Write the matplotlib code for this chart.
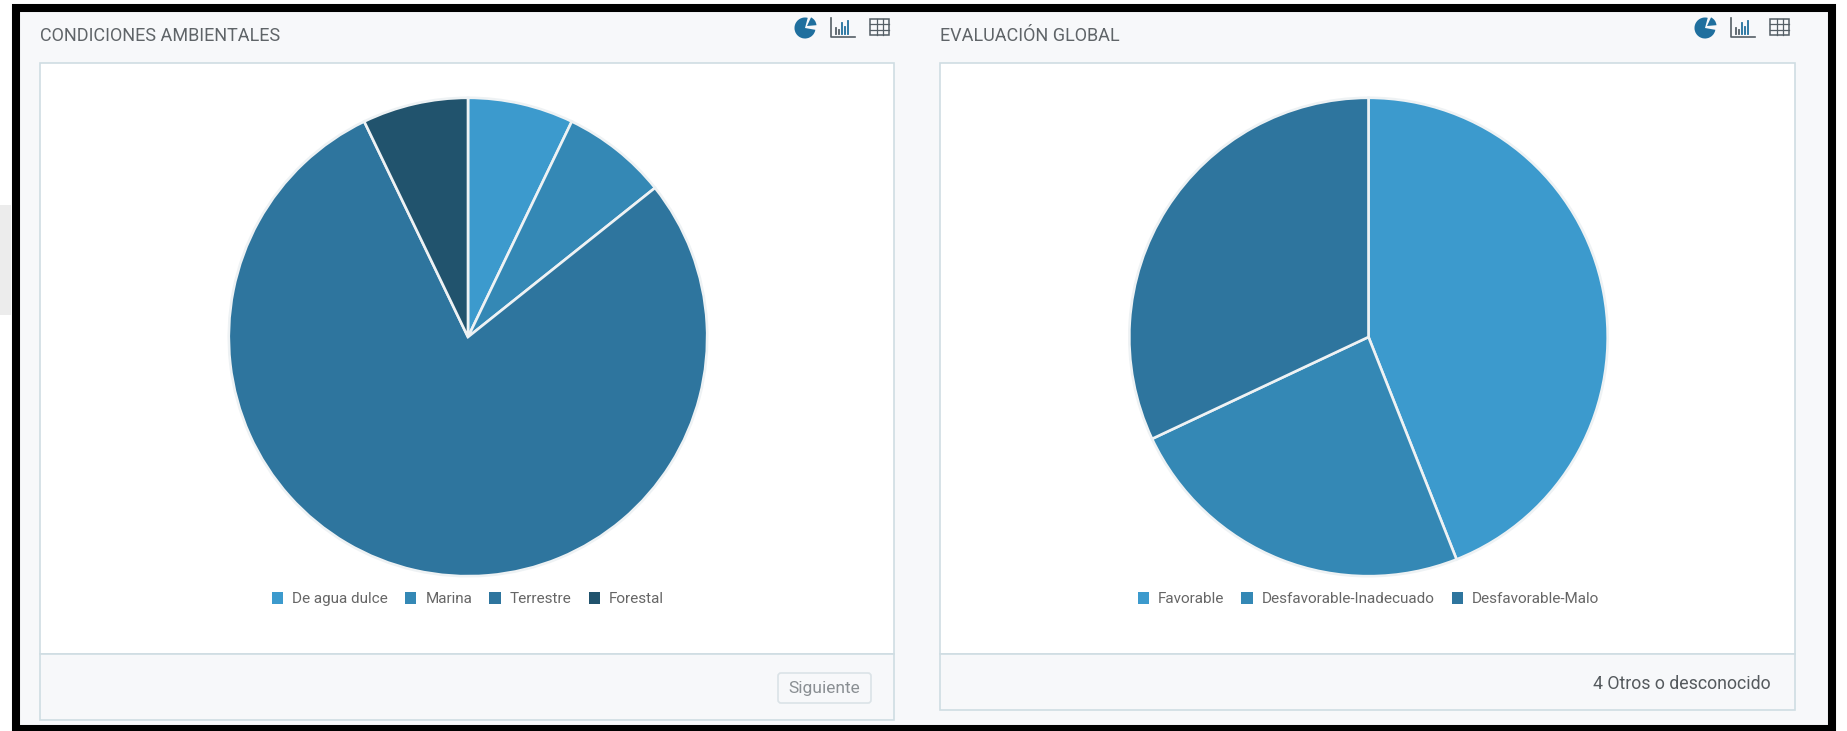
import matplotlib
matplotlib.use('Agg')
import matplotlib.pyplot as plt
from matplotlib.patches import Rectangle, FancyBboxPatch, Wedge

plt.rcParams['font.family'] = ['Roboto', 'DejaVu Sans']

W, H = 1847, 731

left_title = 'CONDICIONES AMBIENTALES'
left_labels = ['De agua dulce', 'Marina', 'Terrestre', 'Forestal']
left_values = [1, 1, 11, 1]
left_colors = ['#3c9acd', '#3488b5', '#2e759e', '#21536d']

right_title = 'EVALUACIÓN GLOBAL'
right_labels = ['Favorable', 'Desfavorable-Inadecuado', 'Desfavorable-Malo']
right_values = [44, 24, 32]
right_colors = ['#3c9acd', '#3488b5', '#2e759e']

fig = plt.figure(figsize=(W / 100, H / 100), dpi=100, facecolor='white')

# fondo en pixeles
bg = fig.add_axes([0, 0, 1, 1])
bg.set_xlim(0, W)
bg.set_ylim(H, 0)
bg.axis('off')

bg.add_patch(Rectangle((16, 8), 1815.5, 721, fc='#f7f8fa', ec='black', lw=5.8, zorder=1))
bg.add_patch(Rectangle((0, 205), 11, 110, fc='#ececec', ec='none', zorder=0))


def icons(x0):
    blue = '#1f6f9e'
    gray = '#555f66'
    bg.add_patch(Wedge((x0, 28), 10.5, 10, 285, fc=blue, ec='none', zorder=3))
    bg.add_patch(Wedge((x0 + 2, 26), 9.5, 295, 355, fc=blue, ec='none', zorder=3))
    bg.plot([x0 + 26, x0 + 26, x0 + 50], [18, 37, 37], color=gray, lw=1.2, zorder=3)
    for dx, h in zip([30, 33, 36, 39, 42], [6, 4, 11, 7, 13]):
        bg.plot([x0 + dx + 1, x0 + dx + 1], [34, 34 - h], color=blue if dx > 35 else gray, lw=1.3, zorder=3)
    bg.add_patch(Rectangle((x0 + 65, 19), 19, 16, fc='none', ec=gray, lw=1.1, zorder=3))
    for dx in [6.5, 13]:
        bg.plot([x0 + 65 + dx] * 2, [19, 35], color=gray, lw=0.9, zorder=3)
    for dy in [5, 10.5]:
        bg.plot([x0 + 65, x0 + 84], [19 + dy] * 2, color=gray, lw=0.9, zorder=3)


def panel(x0, x1, foot_bottom, title, values, labels, colors, legend_y):
    edge = '#cfdde3'
    bg.add_patch(Rectangle((x0, 63), x1 - x0, 591, fc='white', ec=edge, lw=1.2, zorder=2))
    bg.add_patch(Rectangle((x0, 654), x1 - x0, foot_bottom - 654, fc='#f7f8fa', ec=edge, lw=1.2, zorder=2))
    bg.text(x0, 36, title, fontsize=13, color='#5f6468', ha='left', va='center', zorder=3)

    cx, cy, r = (x0 + x1) / 2 + 1, 337, 238
    ax = fig.add_axes([(cx - r) / W, 1 - (cy + r) / H, 2 * r / W, 2 * r / H])
    wedges, _ = ax.pie(values, colors=colors, startangle=90, counterclock=False,
                       wedgeprops={'edgecolor': '#eef2f4', 'linewidth': 1.9})
    ax.set_xlim(-0.995, 0.995)
    ax.set_ylim(-0.995, 0.995)
    for w in wedges:
        w.set_clip_on(False)
    leg = fig.legend(wedges, labels, ncol=len(labels), frameon=False, loc='center',
                     bbox_to_anchor=(cx / W, 1 - legend_y / H), fontsize=11,
                     labelcolor='#666666', handlelength=0.75, handleheight=0.85,
                     handletextpad=0.6, columnspacing=1.1)
    for h in leg.legend_handles:
        h.set_linewidth(0)


panel(40, 894, 720, left_title, left_values, left_labels, left_colors, 599)
panel(940, 1795, 710, right_title, right_values, right_labels, right_colors, 599)

icons(805)
icons(1705)

bg.add_patch(FancyBboxPatch((778, 673), 93, 30, boxstyle='round,pad=0,rounding_size=3',
                            fc='#f7f8fa', ec='#dbe3e7', lw=1.2, zorder=3))
bg.text(824.5, 688, 'Siguiente', fontsize=12.5, color='#8a8f93', ha='center', va='center', zorder=4)
bg.text(1771, 684, '4 Otros o desconocido', fontsize=12.8, color='#555a5e', ha='right', va='center', zorder=4)

fig.savefig('out.png', dpi=100)
